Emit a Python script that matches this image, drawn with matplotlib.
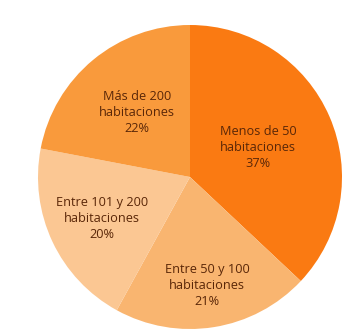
import numpy as np
import matplotlib
matplotlib.use("Agg")
import matplotlib.pyplot as plt

plt.rcParams['font.family'] = ['Open Sans', 'DejaVu Sans']

# Share of hotels by number of rooms
categories = ["Menos de 50\nhabitaciones", "Entre 50 y 100\nhabitaciones",
              "Entre 101 y 200\nhabitaciones", "Más de 200\nhabitaciones"]
shares = [37, 21, 20, 22]
colors = ["#FA7A12", "#F9B570", "#FBC793", "#F99A3C"]
label_radius = [0.49, 0.72, 0.64, 0.55]

fig = plt.figure(figsize=(3.42, 3.34), dpi=100)
ax = fig.add_axes([38 / 342, 5 / 334, 304 / 342, 304 / 334])

wedges, _ = ax.pie(shares, colors=colors, startangle=90, counterclock=False,
                   wedgeprops=dict(linewidth=0), radius=1.0)

for w, cat, val, r in zip(wedges, categories, shares, label_radius):
    mid = np.deg2rad((w.theta1 + w.theta2) / 2)
    ax.text(r * np.cos(mid), r * np.sin(mid), f"{cat}\n{val}%",
            ha="center", va="center", fontsize=9.2, color="#5a2708",
            linespacing=1.3)

ax.set_xlim(-1, 1)
ax.set_ylim(-1, 1)
ax.set_aspect("equal")
ax.axis("off")
fig.savefig("out.png", dpi=100)
